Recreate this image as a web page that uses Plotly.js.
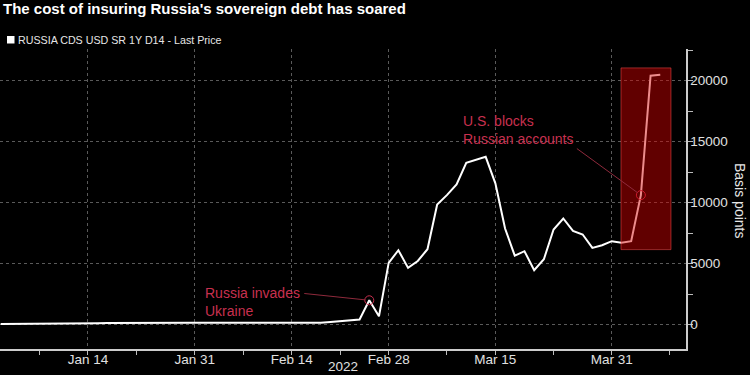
<!DOCTYPE html>
<html><head><meta charset="utf-8">
<script src="https://cdn.plot.ly/plotly-3.0.1.min.js"></script>
<style>html,body{margin:0;padding:0;background:#000;}#chart{width:750px;height:375px;}</style>
</head><body><div id="chart"></div>
<script>
const dates = [
 '2022-01-03','2022-01-04','2022-01-05','2022-01-06','2022-01-07','2022-01-10','2022-01-11','2022-01-12','2022-01-13','2022-01-14',
 '2022-01-17','2022-01-18','2022-01-19','2022-01-20','2022-01-21','2022-01-24','2022-01-25','2022-01-26','2022-01-27','2022-01-28','2022-01-31',
 '2022-02-01','2022-02-02','2022-02-03','2022-02-04','2022-02-07','2022-02-08','2022-02-09','2022-02-10','2022-02-11',
 '2022-02-14','2022-02-15','2022-02-16','2022-02-17','2022-02-18','2022-02-21','2022-02-22','2022-02-23','2022-02-24','2022-02-25','2022-02-28',
 '2022-03-01','2022-03-02','2022-03-03','2022-03-04','2022-03-07','2022-03-08','2022-03-09','2022-03-10','2022-03-11',
 '2022-03-14','2022-03-15','2022-03-16','2022-03-17','2022-03-18','2022-03-21','2022-03-22','2022-03-23','2022-03-24','2022-03-25',
 '2022-03-28','2022-03-29','2022-03-30','2022-03-31','2022-04-01','2022-04-04','2022-04-05','2022-04-06','2022-04-07'
];
const cdsValues = [
 60,60,65,70,75,80,90,100,105,110,
 115,125,135,130,125,140,150,145,140,150,160,
 160,155,150,150,155,150,140,135,145,
 160,150,140,160,220,300,350,420,1995,680,5060,
 6100,4650,5220,6180,9850,10620,11490,13270,13510,
 13760,11580,7880,5650,6020,4460,5360,7800,8700,7680,
 7390,6290,6510,6840,6720,6840,10620,20410,20490
];
const xTickVals = ['2022-01-14','2022-01-31','2022-02-14','2022-02-28','2022-03-15','2022-03-31'];
const xTickText = ['Jan 14','Jan 31','Feb 14','Feb 28','Mar 15','Mar 31'];
const xMinorVals = ['2022-01-07','2022-01-21','2022-02-07','2022-02-21','2022-03-08','2022-03-23','2022-04-08'];
const yTickVals = [0,5000,10000,15000,20000];
const yTickText = ['0','5000','10000','15000','20000'];
const eventDates = ['2022-02-24','2022-04-05'];
const eventLabels = ['Russia invades<br>Ukraine','U.S. blocks<br>Russian accounts'];
const seriesName = 'RUSSIA CDS USD SR 1Y D14 - Last Price';
const chartTitle = "The cost of insuring Russia's sovereign debt has soared";
const yTitle = 'Basis points';
const yearLabel = '2022';

const eventValues = eventDates.map(d => cdsValues[dates.indexOf(d)]);
const red = '#c8304f';
const font = 'Liberation Sans, Arial, sans-serif';

const traces = [
  {x: dates, y: cdsValues, type: 'scatter', mode: 'lines', name: seriesName,
   line: {color: '#ffffff', width: 2}, showlegend: false, hoverinfo: 'skip'},
  {x: eventDates, y: eventValues, type: 'scatter', mode: 'markers', showlegend: false,
   marker: {symbol: 'circle-open', size: 9, color: red, line: {width: 1, color: red}}, hoverinfo: 'skip'}
];

const layout = {
  width: 750, height: 375,
  paper_bgcolor: '#000', plot_bgcolor: '#000',
  margin: {l: 0, r: 64, t: 49, b: 26},
  font: {family: font, color: '#e6e6e6'},
  title: {text: chartTitle, xref: 'container', yref: 'container', x: 0.004, xanchor: 'left',
          y: 0.99, yanchor: 'top', font: {family: font, size: 15, color: '#ffffff', weight: 'bold'}},
  showlegend: false,
  xaxis: {
    type: 'date',
    range: ['2021-12-31 22:20', '2022-04-11 15:40'],
    rangebreaks: [{bounds: ['sat', 'mon']}],
    tickmode: 'array', tickvals: xTickVals, ticktext: xTickText,
    ticks: 'outside', ticklen: 4, tickcolor: '#bbbbbb', tickwidth: 1,
    ticklabelstandoff: -7,
    tickfont: {size: 13.5, color: '#e0e0e0', family: font},
    showline: true, linecolor: '#cccccc', linewidth: 1.5,
    showgrid: true, gridcolor: '#5a5a5a', griddash: 'dot', gridwidth: 1,
    minor: {tickmode: 'array', tickvals: xMinorVals, ticks: 'outside', ticklen: 4, tickcolor: '#bbbbbb', showgrid: false},
    zeroline: false, fixedrange: true
  },
  yaxis: {
    side: 'right',
    range: [-2000, 22600],
    tickmode: 'array', tickvals: yTickVals, ticktext: yTickText,
    ticks: 'outside', ticklen: 5, tickcolor: '#bbbbbb', tickwidth: 1,
    ticklabelstandoff: -5,
    tickfont: {size: 13.5, color: '#e0e0e0', family: font},
    showline: true, linecolor: '#cccccc', linewidth: 1.5,
    showgrid: true, gridcolor: '#5a5a5a', griddash: 'dot', gridwidth: 1,
    minor: {dtick: 2500, tick0: 0, ticks: 'outside', ticklen: 5, tickcolor: '#bbbbbb', showgrid: false},
    zeroline: false, fixedrange: true
  },
  shapes: [
    {type: 'rect', xref: 'x', yref: 'y', x0: '2022-03-31 22:50', x1: '2022-04-08 02:30', y0: 6150, y1: 21050,
     fillcolor: 'rgba(215,0,0,0.45)', line: {color: 'rgba(255,80,80,0.5)', width: 1}, layer: 'above'},
    {type: 'rect', xref: 'paper', yref: 'paper', x0: 7/686, x1: 14.5/686, y0: (349-43.5)/300, y1: (349-36)/300,
     fillcolor: '#ffffff', line: {width: 0}}
  ],
  annotations: [
    {xref: 'paper', yref: 'paper', x: 16/686, y: (349-40)/300, xanchor: 'left', yanchor: 'middle',
     text: seriesName, showarrow: false, font: {size: 10.7, color: '#e6e6e6', family: font}},
    {xref: 'paper', yref: 'paper', x: 740/686, y: (349-200)/300, xanchor: 'center', yanchor: 'middle',
     text: yTitle, textangle: 90, showarrow: false, font: {size: 14, color: '#e6e6e6', family: font}},
    {xref: 'paper', yref: 'paper', x: 343/686, y: (349-366)/300, xanchor: 'center', yanchor: 'middle',
     text: yearLabel, showarrow: false, font: {size: 13.5, color: '#e0e0e0', family: font}},
    {xref: 'paper', yref: 'paper', x: 203/686, y: (349-283)/300, xanchor: 'left', yanchor: 'top', align: 'left',
     text: eventLabels[0], showarrow: false, font: {size: 14, color: red, family: font}},
    {xref: 'paper', yref: 'paper', x: 461/686, y: (349-111)/300, xanchor: 'left', yanchor: 'top', align: 'left',
     text: eventLabels[1], showarrow: false, font: {size: 14, color: red, family: font}},
    {x: eventDates[0], y: eventValues[0], xref: 'x', yref: 'y', text: ' ', showarrow: true,
     ax: -67, ay: -7, arrowhead: 0, arrowwidth: 1, arrowcolor: '#8f2a3c', standoff: 4, font: {size: 4}},
    {x: eventDates[1], y: eventValues[1], xref: 'x', yref: 'y', text: ' ', showarrow: true,
     ax: -66, ay: -48, arrowhead: 0, arrowwidth: 1, arrowcolor: '#8f2a3c', standoff: 4, font: {size: 4}}
  ]
};

Plotly.newPlot('chart', traces, layout, {displayModeBar: false, staticPlot: true});
</script>
</body></html>
